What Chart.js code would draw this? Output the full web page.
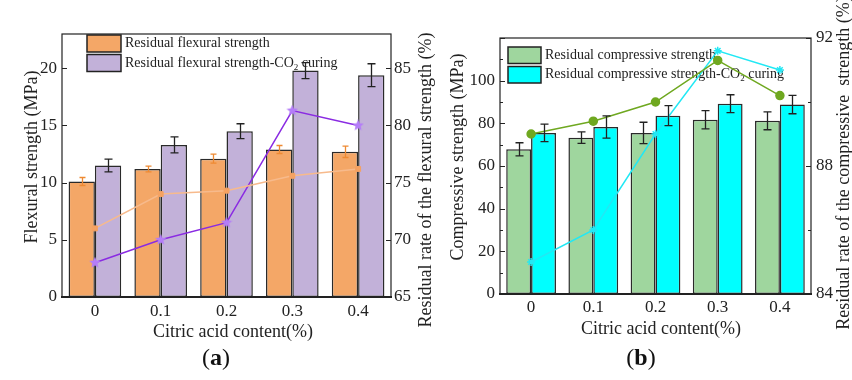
<!DOCTYPE html>
<html>
<head>
<meta charset="utf-8">
<script src="https://cdn.jsdelivr.net/npm/chart.js@4.4.1/dist/chart.umd.min.js"></script>
<style>
  html, body { margin: 0; padding: 0; background: #fff; overflow: hidden; }
  #wrap { position: relative; width: 852px; height: 380px; }
  #chartA { position: absolute; left: 0; top: 0; }
  #chartB { position: absolute; left: 430px; top: 0; }
  .cap { position: absolute; top: 344px; width: 60px; text-align: center;
         font: 24px "Liberation Serif", "Times New Roman", serif; color: #111; }
</style>
</head>
<body>
<div id="wrap">
  <canvas id="chartA" width="440" height="345"></canvas>
  <canvas id="chartB" width="430" height="345"></canvas>
  <div class="cap" style="left:186px">(<b>a</b>)</div>
  <div class="cap" style="left:611px">(<b>b</b>)</div>
</div>
<script>
// citric acid dosage groups
const categories = ['0', '0.1', '0.2', '0.3', '0.4'];

// (a) flexural strength, MPa, with standard deviation
const flexural = [10.1, 11.2, 12.1, 12.9, 12.7];
const flexuralErr = [0.35, 0.25, 0.4, 0.35, 0.5];
const flexuralCO2 = [11.5, 13.3, 14.5, 19.8, 19.4];
const flexuralCO2Err = [0.55, 0.7, 0.65, 0.7, 1.0];
// residual rate, %
const flexuralRate = [71.0, 74.0, 74.3, 75.6, 76.2];
const flexuralRateCO2 = [68.0, 70.0, 71.5, 81.3, 80.0];

// (b) compressive strength, MPa, with standard deviation
const compressive = [67.8, 73.3, 75.5, 81.7, 81.2];
const compressiveErr = [3.1, 2.7, 5.0, 4.3, 4.2];
const compressiveCO2 = [75.5, 78.3, 83.6, 89.2, 88.8];
const compressiveCO2Err = [4.1, 5.2, 4.7, 4.2, 4.3];
// residual rate, %
const compressiveRate = [89.0, 89.4, 90.0, 91.3, 90.2];
const compressiveRateCO2 = [85.0, 86.0, 89.0, 91.6, 91.0];

const SERIF = '"Liberation Serif", "Times New Roman", serif';
Chart.defaults.font.family = SERIF;
Chart.defaults.color = '#222';

// filled five-point star used as a point marker
function starImage(size, color) {
  const c = document.createElement('canvas');
  c.width = c.height = size;
  const g = c.getContext('2d');
  const r = size / 2, ri = r * 0.45;
  g.beginPath();
  for (let k = 0; k < 10; k++) {
    const rad = k % 2 ? ri : r;
    const ang = -Math.PI / 2 + k * Math.PI / 5;
    g.lineTo(r + rad * Math.cos(ang), r + rad * Math.sin(ang));
  }
  g.closePath();
  g.fillStyle = color;
  g.fill();
  return c;
}

// draws text, turning "₂" into a small lowered 2
function drawRich(ctx, text, x, y, size) {
  const parts = text.split('₂');
  let cx = x;
  parts.forEach((p, i) => {
    ctx.font = size + 'px ' + SERIF;
    ctx.fillText(p, cx, y);
    cx += ctx.measureText(p).width;
    if (i < parts.length - 1) {
      ctx.font = Math.round(size * 0.65) + 'px ' + SERIF;
      ctx.fillText('2', cx, y + size * 0.3);
      cx += ctx.measureText('2').width;
    }
  });
}

// box frame with inward major / minor ticks
const framePlugin = {
  id: 'frame',
  afterDraw(chart, args, opts) {
    const { ctx, chartArea: a } = chart;
    ctx.save();
    ctx.strokeStyle = '#222';
    ctx.lineWidth = 1.2;
    ctx.strokeRect(a.left, a.top, a.right - a.left, a.bottom - a.top);
    ctx.lineWidth = 2;
    ctx.beginPath();
    ctx.moveTo(a.left - 1, a.bottom);
    ctx.lineTo(a.right + 1, a.bottom);
    ctx.stroke();
    ctx.lineWidth = 1;
    const marks = (scale, step, len, x0, dir) => {
      for (let v = scale.min; v <= scale.max + 1e-9; v += step) {
        const y = Math.round(scale.getPixelForValue(v)) + 0.5;
        ctx.beginPath();
        ctx.moveTo(x0, y);
        ctx.lineTo(x0 + dir * len, y);
        ctx.stroke();
      }
    };
    const yL = chart.scales.y, yR = chart.scales.y1;
    marks(yL, opts.leftStep, 5, a.left, 1);
    marks(yR, opts.rightStep, 5, a.right, -1);
    if (opts.leftMinor) marks(yL, opts.leftMinor, 3, a.left, 1);
    if (opts.rightMinor) marks(yR, opts.rightMinor, 3, a.right, -1);
    ctx.restore();
  }
};

// axis titles, both y titles read bottom to top
const titlePlugin = {
  id: 'titles',
  afterDraw(chart, args, opts) {
    const ctx = chart.ctx;
    ctx.save();
    ctx.fillStyle = '#222';
    ctx.font = '18px ' + SERIF;
    ctx.textAlign = 'center';
    ctx.textBaseline = 'middle';
    opts.items.forEach(t => {
      ctx.save();
      ctx.translate(t.x, t.y);
      if (t.rot) ctx.rotate(-Math.PI / 2);
      ctx.fillText(t.text, 0, 0);
      ctx.restore();
    });
    ctx.restore();
  }
};

// legend boxes inside the plot, under the lines
const legendPlugin = {
  id: 'boxLegend',
  beforeDatasetsDraw(chart, args, opts) {
    const { ctx, chartArea: a } = chart;
    ctx.save();
    opts.indexes.forEach((di, i) => {
      const ds = chart.data.datasets[di];
      const x = a.left + opts.dx, y = a.top + opts.dy + i * opts.step;
      ctx.fillStyle = ds.backgroundColor;
      ctx.fillRect(x, y, opts.w, opts.h);
      ctx.strokeStyle = '#222';
      ctx.lineWidth = 1.5;
      ctx.strokeRect(x, y, opts.w, opts.h);
      ctx.fillStyle = '#222';
      ctx.textBaseline = 'middle';
      ctx.textAlign = 'left';
      drawRich(ctx, ds.label, x + opts.w + 4, y + opts.h / 2, 14);
    });
    ctx.restore();
  }
};

// vertical error bars with caps on top of the bars
const errorPlugin = {
  id: 'errorBars',
  afterDatasetsDraw(chart, args, opts) {
    const ctx = chart.ctx;
    ctx.save();
    opts.sets.forEach(s => {
      const meta = chart.getDatasetMeta(s.index);
      const ys = chart.scales[meta.yAxisID];
      const vals = chart.data.datasets[s.index].data;
      ctx.strokeStyle = s.color;
      ctx.lineWidth = 1.3;
      meta.data.forEach((bar, j) => {
        const x = Math.round(bar.x) + 0.5;
        const t = ys.getPixelForValue(vals[j] + s.err[j]);
        const b = ys.getPixelForValue(vals[j] - s.err[j]);
        ctx.beginPath();
        ctx.moveTo(x, t); ctx.lineTo(x, b);
        ctx.moveTo(x - s.cap, t); ctx.lineTo(x + s.cap, t);
        ctx.moveTo(x - s.cap, b); ctx.lineTo(x + s.cap, b);
        ctx.stroke();
      });
    });
    ctx.restore();
  }
};

function barSet(label, data, color) {
  return {
    type: 'bar', label, data, yAxisID: 'y', order: 2,
    backgroundColor: color, borderColor: '#2a2a2a', borderWidth: 1.5,
    borderSkipped: false, categoryPercentage: 0.8, barPercentage: 1.0
  };
}

function lineSet(label, data, color, point) {
  return Object.assign({
    type: 'line', label, data, yAxisID: 'y1', order: 1,
    borderColor: color, borderWidth: 1.5, tension: 0, fill: false
  }, point);
}

function yAxis(pos, min, max, step, width, pad, hideAbove) {
  return {
    type: 'linear', position: pos, min, max,
    grid: { display: false, drawTicks: false }, border: { display: false },
    ticks: {
      stepSize: step, includeBounds: false, padding: pad,
      font: { size: 17 }, color: '#222',
      callback: v => (v > hideAbove ? '' : v)
    },
    afterFit: s => { s.width = width; }
  };
}

function xAxis(height, pad) {
  return {
    type: 'category', offset: true,
    grid: { display: false, drawTicks: false }, border: { display: false },
    ticks: { padding: pad, font: { size: 17 }, color: '#222', maxRotation: 0 },
    afterFit: s => { s.height = height; }
  };
}

// (a) flexural
new Chart(document.getElementById('chartA'), {
  type: 'bar',
  data: {
    labels: categories,
    datasets: [
      barSet('Residual flexural strength', flexural, '#F4A767'),
      barSet('Residual flexural strength-CO₂ curing', flexuralCO2, '#C2B1D9'),
      lineSet('Residual rate', flexuralRate, '#F7BA8C', {
        pointStyle: 'rect', pointRadius: 3.5, pointBackgroundColor: '#F5A262',
        pointBorderColor: '#F5A262', pointBorderWidth: 1
      }),
      lineSet('Residual rate-CO₂ curing', flexuralRateCO2, '#8A2BE2', {
        pointStyle: starImage(12, '#B47DF8'), pointRadius: 6
      })
    ]
  },
  options: {
    responsive: false,
    animation: false,
    layout: { padding: { top: 34, left: 0, right: 0, bottom: 0 } },
    scales: {
      x: xAxis(48, 4),
      y: yAxis('left', 0, 23, 5, 62, 5, 20),
      y1: yAxis('right', 65, 88, 5, 49, 3, 85)
    },
    plugins: {
      legend: { display: false },
      tooltip: { enabled: false },
      frame: { leftStep: 5, rightStep: 5 },
      titles: { items: [
        { text: 'Flexural strength (MPa)', x: 32, y: 157, rot: true },
        { text: 'Residual rate of the flexural strength (%)', x: 426, y: 180, rot: true },
        { text: 'Citric acid content(%)', x: 233, y: 332 }
      ] },
      boxLegend: { indexes: [0, 1], dx: 25, dy: 1, step: 19.5, w: 34, h: 17 },
      errorBars: { sets: [
        { index: 0, err: flexuralErr, color: '#EE8A33', cap: 3 },
        { index: 1, err: flexuralCO2Err, color: '#222', cap: 4 }
      ] }
    }
  },
  plugins: [framePlugin, titlePlugin, legendPlugin, errorPlugin]
});

// (b) compressive
new Chart(document.getElementById('chartB'), {
  type: 'bar',
  data: {
    labels: categories,
    datasets: [
      barSet('Residual compressive strength', compressive, '#9FD69E'),
      barSet('Residual compressive strength-CO₂ curing', compressiveCO2, '#00FFFF'),
      lineSet('Residual rate', compressiveRate, '#6FA820', {
        pointStyle: 'circle', pointRadius: 4, pointBackgroundColor: '#6FA820',
        pointBorderColor: '#6FA820'
      }),
      lineSet('Residual rate-CO₂ curing', compressiveRateCO2, '#22E8F4', {
        pointStyle: 'star', pointRadius: 4, pointBorderColor: '#22E8F4',
        pointBorderWidth: 1.5
      })
    ]
  },
  options: {
    responsive: false,
    animation: false,
    layout: { padding: { top: 38, left: 0, right: 0, bottom: 0 } },
    scales: {
      x: xAxis(51, 3),
      y: yAxis('left', 0, 120, 20, 70, 5, 100),
      y1: yAxis('right', 84, 92, 4, 49, 5, 92)
    },
    plugins: {
      legend: { display: false },
      tooltip: { enabled: false },
      frame: { leftStep: 20, rightStep: 4, leftMinor: 10, rightMinor: 2 },
      titles: { items: [
        { text: 'Compressive strength (MPa)', x: 28, y: 157, rot: true },
        { text: 'Residual rate of the compressive  strength (%)', x: 414, y: 163, rot: true },
        { text: 'Citric acid content(%)', x: 231, y: 329 }
      ] },
      boxLegend: { indexes: [0, 1], dx: 8, dy: 9, step: 19.5, w: 33, h: 16.5 },
      errorBars: { sets: [
        { index: 0, err: compressiveErr, color: '#222', cap: 4 },
        { index: 1, err: compressiveCO2Err, color: '#222', cap: 4 }
      ] }
    }
  },
  plugins: [framePlugin, titlePlugin, legendPlugin, errorPlugin]
});
</script>
</body>
</html>
